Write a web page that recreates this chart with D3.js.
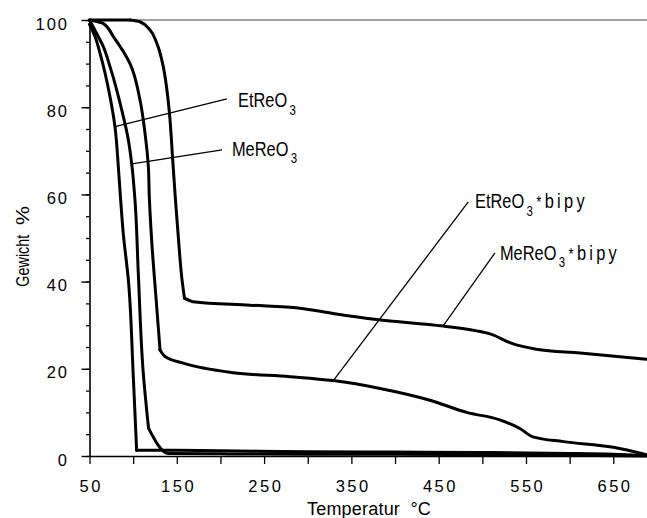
<!DOCTYPE html>
<html><head><meta charset="utf-8">
<script src="https://cdn.jsdelivr.net/npm/d3@7"></script>
<style>
html,body{margin:0;padding:0;background:#fff;}
svg{display:block;font-family:"Liberation Sans",Arial,Helvetica,sans-serif;}
</style></head><body>
<svg id="chart" width="647" height="518"></svg>
<script>
// ---- data ----
const xTickValues = d3.range(50, 651, 50);
const xTickLabels = [50, 150, 250, 350, 450, 550, 650];
const yTickLabels = [0, 20, 40, 60, 80, 100];
const yMinorTicks = d3.range(0, 101, 5);

// EtReO3
const etT = [50, 56.3, 62, 73.5, 79.2, 83, 85.7, 88.7, 94.5, 100, 104, 140, 200, 300, 400, 500, 600, 650, 688];
const etW = [99, 96.2, 92.4, 82.4, 75.5, 66.4, 58.7, 51, 40.4, 19, 1.3, 1.3, 1.2, 1.0, 0.9, 0.8, 0.6, 0.4, 0.1];
// MeReO3
const meT = [50, 58.2, 65.8, 73.5, 86.9, 94.5, 98.3, 102.1, 105.9, 111.6, 117.6, 140, 200, 300, 400, 500, 600, 688];
const meW = [100, 96.9, 93.9, 89.3, 79.4, 72.5, 67.1, 58.7, 41.9, 19, 6.4, 0.6, 0.5, 0.4, 0.4, 0.3, 0.2, 0];
// EtReO3*bipy
const ebT = [50, 65.8, 77.3, 96.4, 107.8, 113.6, 117.4, 118.5, 121.2, 127, 130.8, 136.5, 157.4, 214.7, 279.7, 329, 382.8, 440, 482, 520, 543, 558, 593, 650, 688];
const ebW = [100, 99.2, 96.2, 90, 81.7, 74, 66.4, 59.5, 49.5, 34.2, 24.3, 22.8, 21.3, 19.1, 18.2, 17.3, 15.5, 12.8, 10, 8.3, 6.3, 4.4, 3.3, 2.0, 0.3];
// MeReO3*bipy
const mbT = [50, 96.4, 107.8, 119.3, 127, 134.5, 138.2, 141.6, 145.1, 148.2, 152, 156, 158.8, 168.6, 234, 291, 329, 379, 455, 493.5, 508.8, 535.4, 562, 612, 688];
const mbW = [100, 100, 99.6, 97.7, 94.7, 89.3, 84.7, 78.6, 68.6, 59.5, 49.5, 40.4, 36.2, 35.4, 34.6, 33.9, 32.7, 31.3, 29.8, 28.7, 28, 25.7, 24.5, 23.6, 22.2];

const seriesNames = ["EtReO3", "MeReO3", "EtReO3*bipy", "MeReO3*bipy"];
// index range of the steep (weight-loss) section of each series
const steepRange = [[0, 10], [0, 10], [0, 10], [1, 12]];
// label parts
const labelMain = ["EtReO", "MeReO", "EtReO", "MeReO"];
const labelSub = ["3", "3", "3", "3"];
const labelSuffix = ["", "", "bipy", "bipy"];
// leader lines in data coords [t, weight]
const leaderFrom = [[78.1, 75.5], [98.7, 67.0], [329.3, 17.3], [455.3, 29.9]];
const leaderTo = [[207.5, 81.9], [201.8, 70.2], [483.9, 58.3], [514.5, 46.6]];
const labelAt = [[220.1, 80.0], [213.2, 68.9], [491.6, 56.8], [520.2, 45.0]];

// ---- chart ----
const W = 647, H = 518;
const svg = d3.select("#chart");
svg.append("rect").attr("width", W).attr("height", H).attr("fill", "#fff");

const x = d3.scaleLinear().domain([50, 690]).range([89.5, 648.2]);
const y = d3.scaleLinear().domain([0, 100]).range([456, 20]);

// top frame line
svg.append("line")
  .attr("x1", x(50)).attr("x2", W).attr("y1", y(100)).attr("y2", y(100))
  .attr("stroke", "#444").attr("stroke-width", 1);

// y axis minor ticks
const yMinor = svg.append("g").attr("transform", `translate(${x(50)},0)`)
  .call(d3.axisLeft(y).tickValues(yMinorTicks).tickSize(3.5).tickSizeOuter(0).tickFormat(""));
yMinor.select(".domain").attr("stroke-width", 1.6).attr("stroke", "#000");
yMinor.selectAll(".tick line").attr("stroke-width", 1.3).attr("stroke", "#000");

// y axis major ticks + labels
const yMajor = svg.append("g").attr("transform", `translate(${x(50)},0)`)
  .call(d3.axisLeft(y).tickValues(yTickLabels).tickSize(8).tickSizeOuter(0).tickPadding(12.5));
yMajor.select(".domain").remove();
yMajor.selectAll(".tick line").attr("stroke-width", 1.4).attr("stroke", "#000");
yMajor.selectAll(".tick text")
  .attr("font-size", 16.5).attr("font-family", "Liberation Sans, Arial, sans-serif")
  .attr("letter-spacing", "2px").attr("fill", "#000").attr("dy", "9px");

// x axis
const xAxis = svg.append("g").attr("transform", `translate(0,${y(0)})`)
  .call(d3.axisBottom(x).tickValues(xTickValues).tickSize(8).tickSizeOuter(0)
    .tickFormat(d => xTickLabels.includes(d) ? String(d) : ""));
xAxis.select(".domain").attr("stroke-width", 1.6).attr("stroke", "#000");
xAxis.selectAll(".tick line").attr("stroke-width", 1.3).attr("stroke", "#000");
xAxis.selectAll(".tick text")
  .attr("font-size", 16.5).attr("font-family", "Liberation Sans, Arial, sans-serif")
  .attr("letter-spacing", "2.5px").attr("fill", "#000")
  .attr("y", 36).attr("dy", 0).attr("dx", "1.25px");

// axis titles
svg.append("text")
  .attr("x", 307).attr("y", 515)
  .attr("font-size", 18).attr("letter-spacing", "0.2px")
  .style("white-space", "pre")
  .text("Temperatur  °C");

const yt = svg.append("g").attr("transform", "translate(28.5,0) rotate(-90)");
yt.append("text").attr("x", -286.7).attr("y", 0).attr("font-size", 18)
  .attr("textLength", 52).attr("lengthAdjust", "spacingAndGlyphs").text("Gewicht");
yt.append("text").attr("x", -225).attr("y", 0).attr("font-size", 18)
  .attr("textLength", 19).attr("lengthAdjust", "spacingAndGlyphs").text("%");

// curves: flat parts interpolated along x, steep parts along y
const lineX = d3.line().x(d => x(d[0])).y(d => y(d[1])).curve(d3.curveMonotoneX);
const lineY = d3.line().x(d => x(d[0])).y(d => y(d[1])).curve(d3.curveMonotoneY);
const seriesT = [etT, meT, ebT, mbT];
const seriesW = [etW, meW, ebW, mbW];
seriesT.forEach((ts, i) => {
  const pts = ts.map((t, j) => [t, seriesW[i][j]]);
  const [a, b] = steepRange[i];
  const g = svg.append("g").attr("class", "series").attr("data-name", seriesNames[i]);
  const parts = [
    { p: pts.slice(0, a + 1), gen: lineX },
    { p: pts.slice(a, b + 1), gen: lineY },
    { p: pts.slice(b), gen: lineX }
  ];
  parts.forEach(part => {
    if (part.p.length < 2) return;
    g.append("path").datum(part.p)
      .attr("d", part.gen)
      .attr("fill", "none").attr("stroke", "#000")
      .attr("stroke-width", 3).attr("stroke-linejoin", "round").attr("stroke-linecap", "round");
  });
});

// leader lines
leaderFrom.forEach((f, i) => {
  const t = leaderTo[i];
  svg.append("line")
    .attr("x1", x(f[0])).attr("y1", y(f[1]))
    .attr("x2", x(t[0])).attr("y2", y(t[1]))
    .attr("stroke", "#000").attr("stroke-width", 1.3);
});

// labels
labelAt.forEach((p, i) => {
  const g = svg.append("g").attr("transform", `translate(${x(p[0])},${y(p[1])}) scale(0.82,1)`);
  const tx = g.append("text").attr("fill", "#000");
  tx.append("tspan").attr("font-size", 20).text(labelMain[i]);
  tx.append("tspan").attr("font-size", 14).attr("dx", 3).attr("dy", 7.5).text(labelSub[i]);
  if (labelSuffix[i]) {
    tx.append("tspan").attr("font-size", 16).attr("dx", 4).attr("dy", -7.5).text("*");
    tx.append("tspan").attr("font-size", 20).attr("dx", 4).attr("letter-spacing", "4px").text(labelSuffix[i]);
  }
});
</script>
</body></html>
